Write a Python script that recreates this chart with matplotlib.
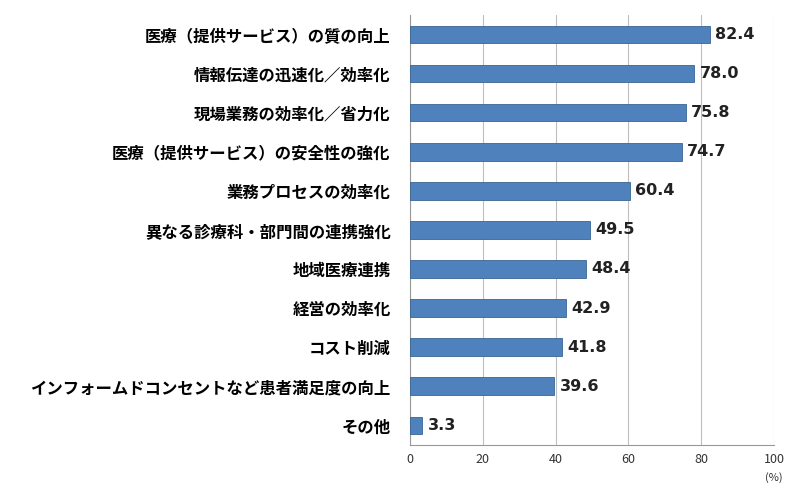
import matplotlib
matplotlib.use("Agg")
import matplotlib.pyplot as plt

plt.rcParams['font.family'] = ['Noto Sans CJK JP', 'DejaVu Sans']

categories = ["医療（提供サービス）の質の向上", "情報伝達の迅速化／効率化", "現場業務の効率化／省力化",
              "医療（提供サービス）の安全性の強化", "業務プロセスの効率化", "異なる診療科・部門間の連携強化",
              "地域医療連携", "経営の効率化", "コスト削減", "インフォームドコンセントなど患者満足度の向上", "その他"]
values = [82.4, 78.0, 75.8, 74.7, 60.4, 49.5, 48.4, 42.9, 41.8, 39.6, 3.3]
xticks = [0, 20, 40, 60, 80, 100]

fig = plt.figure(figsize=(8, 4.96), dpi=100)
ax = fig.add_axes([0.5125, 0.103, 0.455, 0.867])
y = list(range(len(categories)))
ax.barh(y, values, height=0.45, color='#4F81BD', edgecolor='#3A6595', linewidth=0.6, zorder=3)
for yi, v in zip(y, values):
    ax.text(v + 1.5, yi, f"{v:.1f}", va='center', ha='left', fontsize=11.5, fontweight='bold',
            color='#222222', family='DejaVu Sans')
ax.set_yticks(y)
ax.set_yticklabels(categories, fontsize=11.8, fontweight='bold')
ax.set_ylim(len(categories) - 0.5, -0.5)
ax.set_xlim(0, 100)
ax.set_xticks(xticks)
ax.set_xticklabels([str(t) for t in xticks], fontsize=9, color='#333333')
ax.tick_params(axis='y', length=0, pad=14)
ax.tick_params(axis='x', length=0, pad=6)
ax.grid(axis='x', color='#BFBFBF', linewidth=0.8, zorder=0)
for s in ['top', 'right']:
    ax.spines[s].set_visible(False)
ax.spines['left'].set_color('#999999')
ax.spines['bottom'].set_color('#999999')
fig.text(774/800, 1-478/496, "(%)", ha='center', va='center', fontsize=8, color='#333333')
fig.savefig("out.png", dpi=100)
